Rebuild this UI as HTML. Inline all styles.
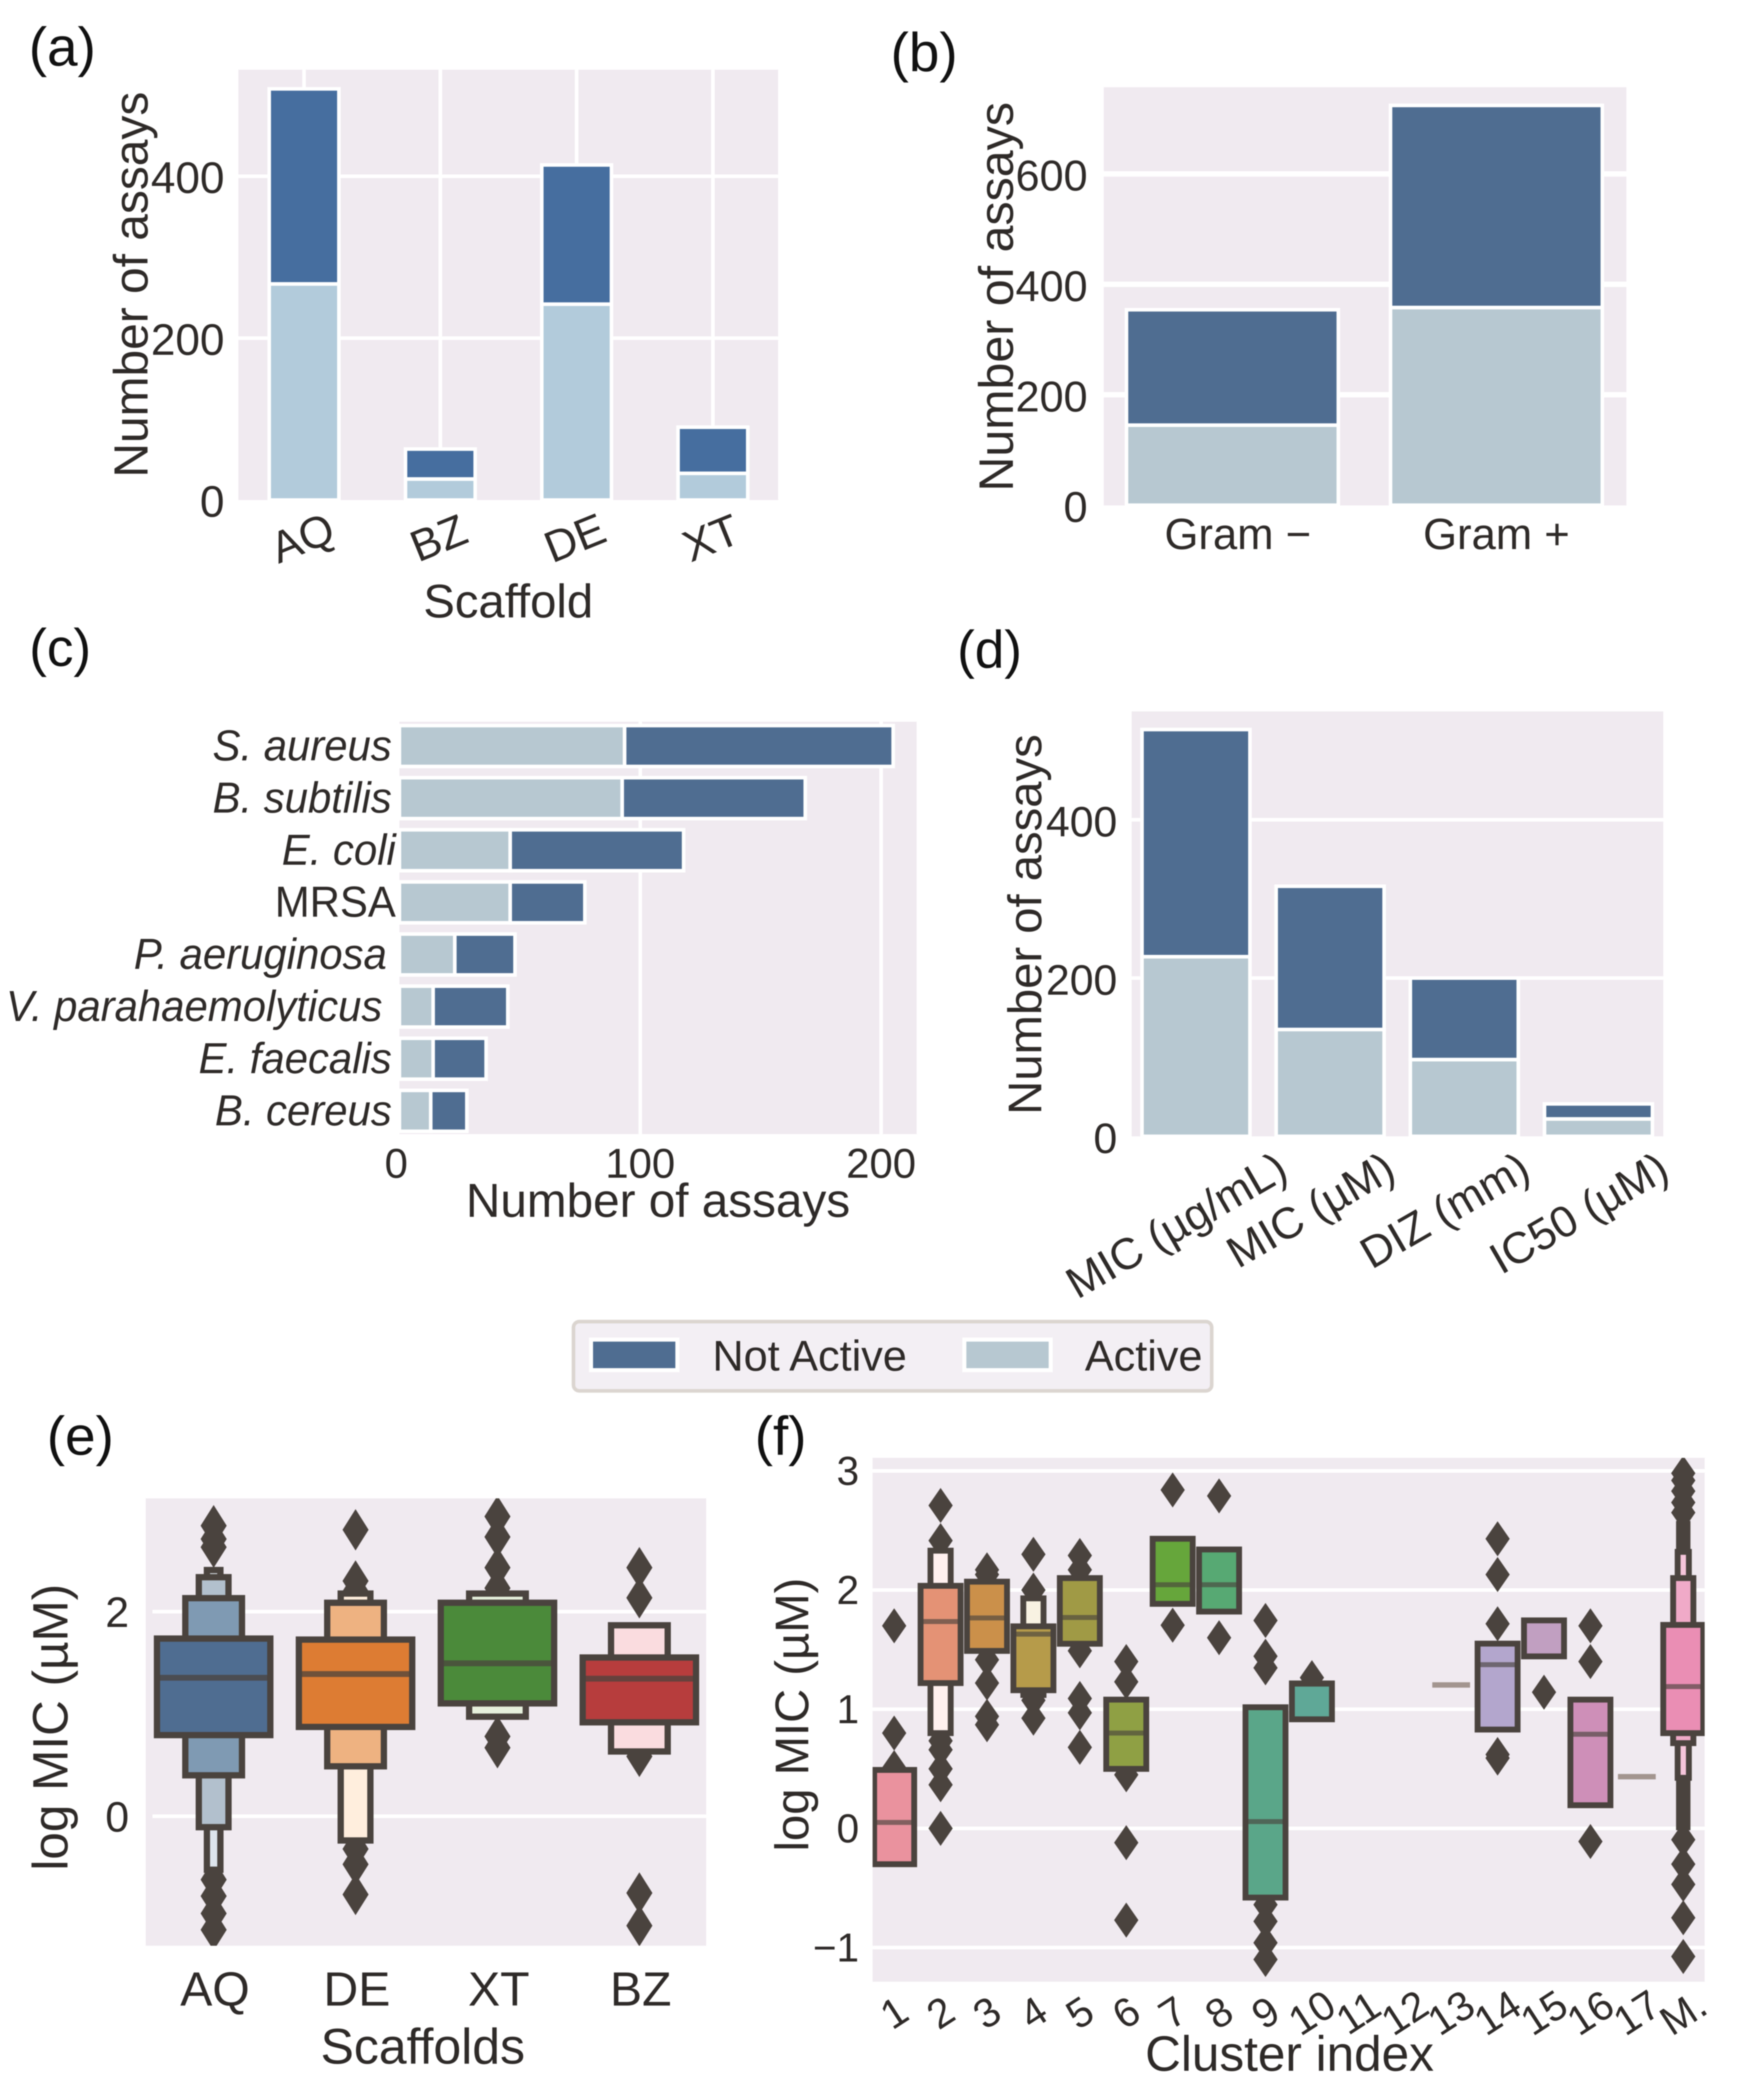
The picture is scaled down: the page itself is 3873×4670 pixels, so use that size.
<!DOCTYPE html>
<html lang="en">
<head>
<meta charset="utf-8">
<title>Assay counts and log MIC distributions</title>
<style>
html,body{margin:0;padding:0;background:#fff;}
body{width:3873px;height:4670px;overflow:hidden;}
svg{display:block;filter:blur(1.2px);}
text{font-family:"Liberation Sans",sans-serif;fill:#2e2a28;}
.panel-letter{fill:#111;}
</style>
</head>
<body>
<svg id="figure" xmlns="http://www.w3.org/2000/svg" width="3873" height="4670" viewBox="0 0 3873 4670">
  <defs>
    <clipPath id="clip-e"><rect x="324" y="3332" width="1246" height="995"/></clipPath>
    <clipPath id="clip-f"><rect x="1940" y="3242" width="1850" height="1165"/></clipPath>
  </defs>
  <rect x="0" y="0" width="3873" height="4670" fill="#fff"/>

  <g id="panel-a">
    <rect x="530" y="155" width="1200" height="957" fill="#f0eaf0"/>
    <g id="a-layer"></g>
    <text x="64" y="146" font-size="122" class="panel-letter">(a)</text>
    <text transform="translate(328 633) rotate(-90)" text-anchor="middle" font-size="106.5">Number of assays</text>
    <text x="1130" y="1373" text-anchor="middle" font-size="105">Scaffold</text>
  </g>

  <g id="panel-b">
    <rect x="2454" y="194" width="1162" height="930" fill="#f0eaf0"/>
    <g id="b-layer"></g>
    <text x="1980" y="158" font-size="122" class="panel-letter">(b)</text>
    <text transform="translate(2252 660) rotate(-90)" text-anchor="middle" font-size="107.5">Number of assays</text>
  </g>

  <g id="panel-c">
    <rect x="888" y="1605" width="1150" height="917" fill="#f0eaf0"/>
    <g id="c-layer"></g>
    <text x="65" y="1481" font-size="118" class="panel-letter">(c)</text>
    <text x="1463" y="2706" text-anchor="middle" font-size="106">Number of assays</text>
  </g>

  <g id="panel-d">
    <rect x="2516" y="1582" width="1182" height="945" fill="#f0eaf0"/>
    <g id="d-layer"></g>
    <text x="2128" y="1485" font-size="118" class="panel-letter">(d)</text>
    <text transform="translate(2315 2056) rotate(-90)" text-anchor="middle" font-size="105">Number of assays</text>
  </g>

  <g id="legend">
    <rect x="1275" y="2939" width="1419" height="154" rx="13" fill="#f3eff4" stroke="#dbd5d0" stroke-width="8"/>
    <rect x="1314" y="2979" width="192" height="68" fill="#4f6d91" stroke="#fff" stroke-width="9"/>
    <text x="1584" y="3048" font-size="96">Not Active</text>
    <rect x="2144" y="2979" width="192" height="68" fill="#b7c8d1" stroke="#fff" stroke-width="9"/>
    <text x="2412" y="3048" font-size="96">Active</text>
  </g>

  <g id="panel-e">
    <rect x="324" y="3332" width="1246" height="995" fill="#f0eaf0"/>
    <g id="e-layer"></g>
    <text x="104" y="3235" font-size="122" class="panel-letter">(e)</text>
    <text transform="translate(150 3841) rotate(-90)" text-anchor="middle" font-size="110">log MIC (µM)</text>
    <text x="940" y="4589" text-anchor="middle" font-size="111">Scaffolds</text>
  </g>

  <g id="panel-f">
    <rect x="1940" y="3242" width="1850" height="1165" fill="#f0eaf0"/>
    <g id="f-layer"></g>
    <text x="1678" y="3235" font-size="122" class="panel-letter">(f)</text>
    <text transform="translate(1797 3813) rotate(-90)" text-anchor="middle" font-size="105">log MIC (µM)</text>
    <text x="2867" y="4605" text-anchor="middle" font-size="110">Cluster index</text>
  </g>
</svg>

<script>
// ---------- Panel (a) data ----------
const aCategories = ["AQ", "BZ", "DE", "XT"];
const aActive = [267, 26, 242, 33];
const aNotActive = [241, 37, 172, 57];
const aTicks = [0, 200, 400];

// ---------- Panel (b) data ----------
const bCategories = ["Gram \u2212", "Gram +"];
const bActive = [145, 358];
const bNotActive = [209, 366];
const bTicks = [0, 200, 400, 600];

// ---------- Panel (c) data ----------
const cCategories = ["S. aureus", "B. subtilis", "E. coli", "MRSA", "P. aeruginosa", "V. parahaemolyticus", "E. faecalis", "B. cereus"];
const cActive = [93.5, 92.5, 46, 46, 23, 14, 14, 13];
const cNotActive = [111.5, 76, 72, 31, 25, 31, 22, 15];
const cTicks = [0, 100, 200];

// ---------- Panel (d) data ----------
const dCategories = ["MIC (µg/mL)", "MIC (µM)", "DIZ (mm)", "IC50 (µM)"];
const dActive = [227, 135, 97, 22];
const dNotActive = [287, 181, 103, 19];
const dTicks = [0, 200, 400];

// ---------- Panel (e) data ----------
const eCategories = ["AQ", "DE", "XT", "BZ"];
const eMedians = [1.354, 1.39, 1.495, 1.345];
const eLevels = [
  [[0.78, 1.75], [0.387, 2.145], [-0.12, 2.35], [-0.536, 2.42]],
  [[0.86, 1.74], [0.475, 2.1], [-0.25, 2.19]],
  [[1.09, 2.1], [0.96, 2.19]],
  [[0.905, 1.565], [0.62, 1.88]]
];
const eFlyers = [
  [2.84, 2.71, 2.63, -0.62, -0.78, -0.95, -1.11],
  [2.8, 2.3, 2.2, -0.32, -0.47, -0.765],
  [2.93, 2.73, 2.43, 2.23, 0.78, 0.67],
  [2.43, 2.135, 0.585, -0.75, -1.07]
];
const eTicks = [0, 2];

// ---------- Panel (f) data ----------
const fCategories = ["1", "2", "3", "4", "5", "6", "7", "8", "9", "10", "11", "12", "13", "14", "15", "16", "17", "M."];
const fMedians = [0.05, 1.736, 1.766, 1.63, 1.77, 0.8, 2.045, 2.045, 0.057, 1.21, null, null, 1.204, 1.374, null, 0.79, 0.434, 1.19];
const fLevels = [
  [[-0.31, 0.5]],
  [[1.21, 2.045], [0.79, 2.34]],
  [[1.48, 2.08]],
  [[1.15, 1.705], [1.11, 1.94]],
  [[1.54, 2.11]],
  [[0.49, 1.09]],
  [[1.875, 2.44]],
  [[1.81, 2.35]],
  [[-0.59, 1.026]],
  [[0.906, 1.226]],
  [],
  [],
  [],
  [[0.82, 1.56]],
  [[1.434, 1.755]],
  [[0.185, 1.09]],
  [],
  [[0.79, 1.717], [0.706, 2.11], [0.415, 2.33], [0, 2.565]]
];
const fFlyers = [
  [1.7, 0.8, 0.51],
  [2.71, 2.415, 0.735, 0.66, 0.5, 0.366, 0],
  [2.17, 2.13, 1.415, 1.22, 0.94, 0.87],
  [2.3, 2.0, 1.075, 0.925],
  [2.29, 2.17, 1.49, 1.09, 0.97, 0.68],
  [1.4, 1.23, 0.45, -0.12, -0.77],
  [2.84, 1.705],
  [2.79, 1.6],
  [1.745, 1.445, 1.347, -0.64, -0.78, -0.96, -1.1],
  [1.265],
  [],
  [],
  [],
  [2.43, 2.13, 1.717, 0.62, 0.59],
  [1.143],
  [1.7, 1.4, -0.11],
  [],
  [2.98, 2.92, 2.83, 2.735, 2.65, -0.095, -0.3, -0.47, -0.75, -1.075]
];
const fTicks = [-1, 0, 1, 2, 3];

// ---------- Styling (not data) ----------
const eFills = [
  ["#4f6d91", "#7f9ab3", "#b2c0cd", "#dde4ec"],
  ["#dd7c33", "#eeb281", "#ffeedd"],
  ["#4b8a3a", "#e6f0dc"],
  ["#b73d3d", "#fadcdf"]
];
const fFills = [
  ["#ea929e"], ["#e49275", "#fff0ee"], ["#cb904a"], ["#b69b4a", "#f8f2e2"], ["#a09a45"],
  ["#8fa044"], ["#66a63b"], ["#57a973"], ["#5aa689"], ["#5fa897"], [], [], [],
  ["#b3a6cd"], ["#c19fc1"], ["#ce8fb8"], [], ["#ea8eb4", "#f0aac8", "#f5c5da", "#4a433e"]
];
const SVGNS = "http://www.w3.org/2000/svg";
const INK = "#4a433e";

function make(tag, attrs, parent) {
  const node = document.createElementNS(SVGNS, tag);
  for (const key in attrs) node.setAttribute(key, attrs[key]);
  parent.appendChild(node);
  return node;
}
function layer(id) { return document.getElementById(id); }
function label(parent, str, attrs) {
  const node = make("text", attrs, parent);
  node.textContent = str;
  return node;
}
function fmt(v) { return String(v).replace("-", "\u2212"); }

// ---------- Shared drawing for stacked bars ----------
function drawGridH(parent, ticks, yScale, x1, x2, thick) {
  ticks.forEach(function (t) {
    const line = make("line", { x1: x1, x2: x2, y1: yScale(t), y2: yScale(t), stroke: "#fff", "stroke-width": thick }, parent);
    
    
  });
}
function drawGridV(parent, ticks, xScale, y1, y2, thick) {
  ticks.forEach(function (t) {
    const line = make("line", { y1: y1, y2: y2, x1: xScale(t), x2: xScale(t), stroke: "#fff", "stroke-width": thick }, parent);
    
    
  });
}
function drawYTickLabels(parent, ticks, yScale, right, dy, size) {
  ticks.forEach(function (t) {
    const tx = label(parent, fmt(t), { x: right, y: yScale(t) + dy, "text-anchor": "end", "font-size": size });
    
    
  });
}
function drawStackV(parent, active, notActive, xScale, yScale, width, darkFill, lightFill) {
  active.forEach(function (v, i) {
    const light = make("rect", {
      x: xScale(i) - width / 2, width: width,
      y: yScale(v), height: yScale(0) - yScale(v),
      fill: lightFill, stroke: "#fff", "stroke-width": 8
    }, parent);
    
    
    const dark = make("rect", {
      x: xScale(i) - width / 2, width: width,
      y: yScale(v + notActive[i]), height: yScale(v) - yScale(v + notActive[i]),
      fill: darkFill, stroke: "#fff", "stroke-width": 8
    }, parent);
    
    
  });
}

// ---------- Panel (a) ----------
const aX = function (i) { return 676 + 303 * i; };
const aY = function (v) { return 1112 - 1.8 * v; };
(function () {
  const g = layer("a-layer");
  drawGridH(g, aTicks.slice(1), aY, 530, 1730, 8);
  drawGridV(g, [0, 1, 2, 3], aX, 155, 1112, 8);
  drawStackV(g, aActive, aNotActive, aX, aY, 155, "#466e9f", "#b2cbdb");
  drawYTickLabels(g, aTicks, aY, 499, 37, 98);
  aCategories.forEach(function (c, i) {
    const tx = label(g, c, { transform: "translate(" + (aX(i) - 4) + " 1196) rotate(-22)", y: 34, "text-anchor": "middle", "font-size": 98 });
    
    
  });
})();

// ---------- Panel (b) ----------
const bX = function (i) { return 2740 + 587 * i; };
const bY = function (v) { return 1123.5 - 1.228 * v; };
(function () {
  const g = layer("b-layer");
  drawGridH(g, bTicks.slice(1), bY, 2454, 3616, 12);
  drawStackV(g, bActive, bNotActive, bX, bY, 471, "#4f6d91", "#b7c8d1");
  drawYTickLabels(g, bTicks, bY, 2418, 37, 96);
  bCategories.forEach(function (c, i) {
    const tx = label(g, c, { x: bX(i) + (i === 0 ? 12 : 0), y: 1221, "text-anchor": "middle", "font-size": 97 });
    
    
  });
})();

// ---------- Panel (c) ----------
const cX = function (v) { return 888 + 5.355 * v; };
const cY = function (i) { return 1659 + 115.9 * i; };
(function () {
  const g = layer("c-layer");
  drawGridV(g, cTicks.slice(1), cX, 1605, 2522, 8);
  cActive.forEach(function (v, i) {
    const light = make("rect", {
      x: cX(0), width: cX(v) - cX(0),
      y: cY(i) - 45.5, height: 91,
      fill: "#b7c8d1", stroke: "#fff", "stroke-width": 8
    }, g);
    
    
    const dark = make("rect", {
      x: cX(v), width: cX(v + cNotActive[i]) - cX(v),
      y: cY(i) - 45.5, height: 91,
      fill: "#4f6d91", stroke: "#fff", "stroke-width": 8
    }, g);
    
    
  });
  const cover = make("rect", { x: 880, y: 1600, width: 8, height: 925, fill: "#fff" }, g);
  
  
  cCategories.forEach(function (c, i) {
    const initial = c.slice(0, 2);
    const right = initial === "V." ? 850 : initial === "P." ? 860 : (initial === "E." && c !== "E. faecalis") || c === "MRSA" ? 880 : 871;
    const attrs = { transform: "translate(" + right + " " + (cY(i) + 32) + ") scale(0.96 1)", "text-anchor": "end", "font-size": 97 };
    if (c !== "MRSA") attrs["font-style"] = "italic";
    const tx = label(g, c, attrs);
    
    
  });
  cTicks.forEach(function (t) {
    const tx = label(g, fmt(t), { x: cX(t) - (t === 0 ? 7 : 0), y: 2619, "text-anchor": "middle", "font-size": 93 });
    
    
  });
})();

// ---------- Panel (d) ----------
const dX = function (i) { return 2659 + 298.3 * i; };
const dY = function (v) { return 2527 - 1.76 * v; };
(function () {
  const g = layer("d-layer");
  drawGridH(g, dTicks.slice(1), dY, 2516, 3698, 8);
  drawStackV(g, dActive, dNotActive, dX, dY, 240, "#4f6d91", "#b7c8d1");
  drawYTickLabels(g, dTicks, dY, 2484, 37, 95);
  dCategories.forEach(function (c, i) {
    const tx = label(g, c, { y: 34, "text-anchor": "middle", "font-size": 98 });
    
    
    const len = tx.getComputedTextLength();
    const cy = 2546 + (len * 0.5 + 98 * 0.85) / 2;
    tx.setAttribute("transform", "translate(" + (dX(i) - 44) + " " + cy + ") rotate(-30)");
  });
})();

// ---------- Shared drawing for letter-value boxes ----------
function drawDiamonds(parent, values, cx, yScale, hw, hh) {
  values.forEach(function (v) {
    const y = yScale(v);
    const pts = [[cx, y - hh], [cx + hw, y], [cx, y + hh], [cx - hw, y]].map(function (p) { return p.join(","); }).join(" ");
    const d = make("polygon", { points: pts, fill: INK }, parent);
    
    
  });
}
function drawLevels(parent, levels, fills, cx, yScale, halfWidths, sw) {
  const inset = sw / 2 - 4;
  for (let k = levels.length - 1; k >= 0; k--) {
    const lo = levels[k][0], hi = levels[k][1];
    const hw = halfWidths[k] - inset;
    const box = make("rect", {
      x: cx - hw, width: hw * 2,
      y: yScale(hi) + inset, height: yScale(lo) - yScale(hi) - inset * 2,
      fill: fills[k], stroke: INK, "stroke-width": sw
    }, parent);
    
    
  }
}
function drawMedian(parent, v, cx, yScale, hw, sw, color, opacity) {
  const m = make("line", { x1: cx - hw, x2: cx + hw, y1: yScale(v), y2: yScale(v), stroke: color, "stroke-width": sw, "stroke-opacity": opacity }, parent);
  
  
}

// ---------- Panel (e) ----------
const eX = function (i) { return 475 + 315.5 * i; };
const eY = function (v) { return 4039 - 227.5 * v; };
(function () {
  const g = layer("e-layer");
  drawGridH(g, eTicks, eY, 339, 1570, 8);
  const plot = make("g", { "clip-path": "url(#clip-e)" }, g);
  
  
  eCategories.forEach(function (c, i) {
    drawDiamonds(plot, eFlyers[i], eX(i), eY, 29, 46);
    drawLevels(plot, eLevels[i], eFills[i], eX(i), eY, [129, 66, 36, 18], 14);
    drawMedian(plot, eMedians[i], eX(i), eY, 121, 13, INK, 0.75);
  });
  eTicks.forEach(function (t) {
    const tx = label(g, fmt(t), { x: 287, y: eY(t) + 34, "text-anchor": "end", "font-size": 95 });
    
    
  });
  eCategories.forEach(function (c, i) {
    const tx = label(g, c, { x: eX(i) + 3, y: 4460, "text-anchor": "middle", "font-size": 107 });
    
    
  });
})();

// ---------- Panel (f) ----------
const fX = function (i) { return 1988 + 103.2 * i; };
const fY = function (v) { return 4066 - 265 * v; };
(function () {
  const g = layer("f-layer");
  drawGridH(g, fTicks, fY, 1940, 3790, 8);
  const plot = make("g", { "clip-path": "url(#clip-f)" }, g);
  
  
  fCategories.forEach(function (c, i) {
    drawDiamonds(plot, fFlyers[i], fX(i), fY, 27, 39);
    if (fLevels[i].length) {
      drawLevels(plot, fLevels[i], fFills[i], fX(i), fY, [47, 25, 15, 12], 13);
      if (fMedians[i] !== null) drawMedian(plot, fMedians[i], fX(i), fY, 42, 11, INK, 0.65);
    } else if (fMedians[i] !== null) {
      drawMedian(plot, fMedians[i], fX(i), fY, 42, 12, "#a3958f", 1);
    }
  });
  fTicks.forEach(function (t) {
    const tx = label(g, fmt(t), { x: 1910, y: fY(t) + 31, "text-anchor": "end", "font-size": 90 });
    
    
  });
  fCategories.forEach(function (c, i) {
    const tx = label(g, c, { transform: "translate(" + fX(i) + " 4476) rotate(-33)", y: 31, "text-anchor": "middle", "font-size": 91 });
    
    
  });
})();
</script>
</body>
</html>
